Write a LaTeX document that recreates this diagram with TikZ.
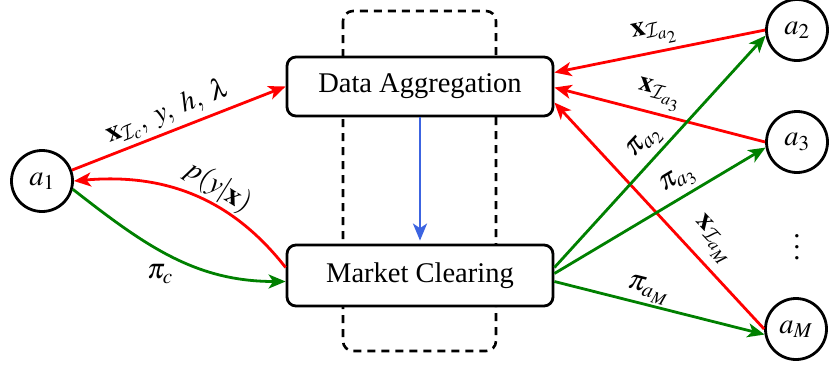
\documentclass[tikz,border=0pt]{standalone}
\usepackage{mathptmx}
\usepackage{fontspec}
\setmainfont{Liberation Serif}
\DeclareMathAlphabet{\mathcal}{OMS}{cmsy}{m}{n}
\usetikzlibrary{arrows.meta}
\definecolor{myred}{RGB}{255,0,0}
\definecolor{mygreen}{RGB}{0,128,0}
\definecolor{myblue}{RGB}{60,100,225}
\tikzset{
  agent/.style={circle,draw=black,line width=2.8pt,minimum size=61pt,inner sep=0pt,fill=white},
  procbox/.style={rectangle,rounded corners=9pt,draw=black,line width=2.8pt,fill=white,inner sep=0pt},
  arr/.style={line width=2.8pt,-{Stealth[length=17pt,width=14pt,inset=4.5pt]}},
  redarr/.style={arr,draw=myred},
  greenarr/.style={arr,draw=mygreen},
  bluearr/.style={arr,draw=myblue},
  lbl/.style={inner sep=0pt},
}
\newcommand{\myvdots}{\vbox{\baselineskip=11pt\lineskiplimit=0pt\hbox{.}\hbox{.}\hbox{.}}}
\begin{document}
\begin{tikzpicture}[x=1pt,y=-1pt,font=\fontsize{28.5}{34}\selectfont]
\useasboundingbox (0,0) rectangle (830,373);
% dashed container
\draw[dashed,dash pattern=on 8pt off 6pt,line width=2.6pt,rounded corners=10pt] (343,11) rectangle (496,351);
% boxes
\node[procbox,minimum width=266pt,minimum height=59pt] (da) at (420,86.5) {Data Aggregation};
\node[procbox,minimum width=266pt,minimum height=61pt] (mc) at (420,275.5) {Market Clearing};
% agents
\node[agent] (a1) at (42,181) {$a_1$};
\node[agent] (a2) at (797,30) {$a_2$};
\node[agent] (a3) at (797,142) {$a_3$};
\node[agent] (aM) at (796,329) {$a_M$};
\node[lbl] (dots) at (797,247) {\myvdots};
% blue
\draw[bluearr] (da.south) -- ([yshift=3pt]mc.north);
% left side
\draw[redarr] (a1.20) -- (da.west);
\draw[redarr] ([yshift=8pt]mc.west) to[out=128,in=5] (a1.east);
\draw[greenarr] (a1.-15) to[out=-38,in=180] ([yshift=-6pt]mc.west);
% right side red
\draw[redarr] (a2.west) -- ([yshift=14pt]da.east);
\draw[redarr] (a3.west) -- ([yshift=-1pt]da.east);
\draw[redarr] (aM.west) -- ([yshift=-16pt]da.east);
% right side green
\draw[greenarr] ([yshift=8pt]mc.east) -- (a2.190);
\draw[greenarr] ([yshift=2pt]mc.east) -- (a3.190);
\draw[greenarr] ([yshift=-6pt]mc.east) -- (aM.190);
% labels
\node[lbl,rotate=21.5] (l1) at (168,112) {$\mathbf{x}_{\mathcal{I}_c},\; y,\; h,\; \lambda$};
\node[lbl,rotate=-32] (l2) at (218,187) {$p(y|\mathbf{x})$};
\node[lbl] (l3) at (160,274) {$\pi_c$};
\node[lbl,rotate=11] (l4) at (654,33) {$\mathbf{x}_{\mathcal{I}_{a_2}}$};
\node[lbl,rotate=-14] (l5) at (659,95) {$\mathbf{x}_{\mathcal{I}_{a_3}}$};
\node[lbl,rotate=47] (l6) at (645,143) {$\pi_{a_2}$};
\node[lbl,rotate=31] (l7) at (678,180) {$\pi_{a_3}$};
\node[lbl,rotate=-47] (l8) at (713,240) {$\mathbf{x}_{\mathcal{I}_{a_M}}$};
\node[lbl,rotate=-14] (l9) at (648,290) {$\pi_{a_M}$};
\end{tikzpicture}
\end{document}
